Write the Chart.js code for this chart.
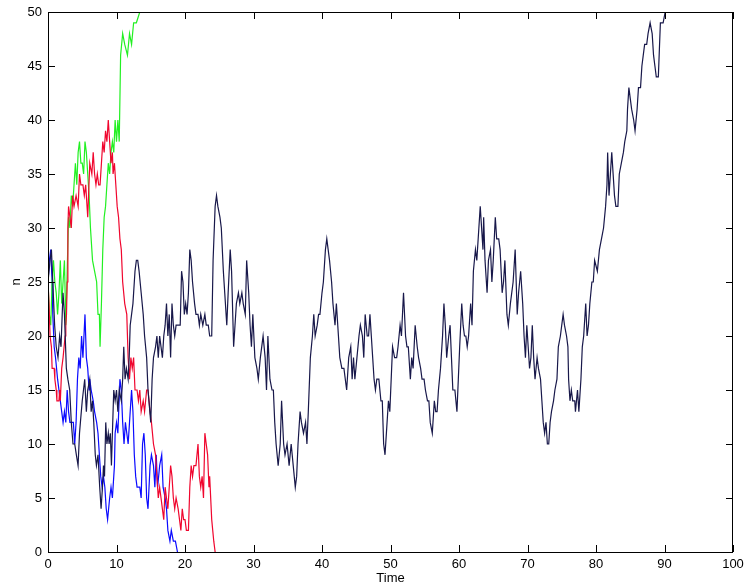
<!DOCTYPE html>
<html>
<head>
<meta charset="utf-8">
<script src="https://cdn.jsdelivr.net/npm/chart.js@4.4.1/dist/chart.umd.min.js"></script>
<style>
  html, body { margin: 0; padding: 0; background: #fff; }
  #wrap { width: 744px; height: 586px; }
</style>
</head>
<body>
<div id="wrap"><canvas id="c" width="744" height="586"></canvas></div>
<script>
// Population size n over time for four sample paths (absorbed at 0 or 50).
const blackTime = [0,0.3,0.5,0.7,0.97,1.2,1.46,1.7,1.9,2.19,2.4,2.68,2.9,3.17,3.4,3.65,3.9,4.14,4.39,4.6,4.73,5.0,5.36,5.6,5.8,6.09,6.3,6.5,6.68,6.9,7.07,7.3,7.55,7.75,7.95,8.1,8.25,8.43,8.6,8.8,8.92,9.1,9.26,9.45,9.6,9.8,10.0,10.2,10.4,10.7,10.9,11.06,11.25,11.45,11.7,11.85,12.0,12.2,12.4,12.7,12.9,13.1,13.3,13.6,13.9,14.1,14.4,14.6,15.0,15.2,15.4,15.7,15.9,16.1,16.3,16.5,16.7,16.9,17.1,17.3,17.5,17.7,17.9,18.1,18.3,18.5,18.7,19.0,19.3,19.5,19.7,19.9,20.1,20.3,20.5,20.7,20.9,21.1,21.4,21.6,21.9,22.1,22.3,22.6,22.9,23.1,23.4,23.6,23.9,24.1,24.4,24.6,24.8,25.1,25.3,25.6,25.8,26.1,26.3,26.6,26.8,27.1,27.3,27.5,27.8,28.0,28.3,28.5,28.8,29.0,29.3,29.5,29.7,29.9,30.2,30.5,30.7,31.0,31.2,31.4,31.7,31.9,32.1,32.4,32.7,32.9,33.1,33.3,33.6,33.9,34.1,34.4,34.6,34.9,35.2,35.5,35.8,36.1,36.3,36.5,36.8,37.0,37.3,37.6,37.8,38.0,38.3,38.6,38.8,39.0,39.3,39.5,39.7,40.0,40.2,40.5,40.7,40.9,41.1,41.4,41.6,41.9,42.1,42.4,42.6,42.9,43.2,43.6,43.9,44.2,44.4,44.6,44.8,45.1,45.4,45.6,45.9,46.1,46.3,46.6,46.8,47.0,47.2,47.4,47.6,47.8,48.0,48.3,48.6,48.8,49.0,49.2,49.5,49.7,49.9,50.1,50.3,50.6,50.9,51.1,51.4,51.6,51.9,52.2,52.4,52.6,52.9,53.1,53.3,53.6,53.9,54.1,54.4,54.6,54.9,55.1,55.4,55.6,55.8,56.1,56.4,56.6,56.8,57.0,57.3,57.6,57.8,58.0,58.2,58.5,58.7,58.9,59.1,59.4,59.7,59.9,60.1,60.4,60.6,60.8,61.0,61.2,61.4,61.7,61.9,62.1,62.4,62.6,62.9,63.1,63.3,63.5,63.6,63.8,64.1,64.3,64.6,64.8,65.0,65.3,65.5,65.8,66.0,66.3,66.5,66.7,67.0,67.2,67.5,67.9,68.2,68.5,68.7,69.0,69.3,69.5,69.7,69.9,70.1,70.3,70.5,70.7,70.9,71.1,71.4,71.6,71.9,72.1,72.3,72.5,72.7,72.9,73.1,73.3,73.5,73.8,74.0,74.3,74.5,74.8,75.0,75.2,75.4,75.7,75.9,76.0,76.2,76.4,76.6,76.9,77.0,77.3,77.5,77.8,78.0,78.2,78.5,78.7,78.9,79.1,79.4,79.6,79.8,80.2,80.5,80.8,81.1,81.4,81.6,81.7,81.9,82.1,82.3,82.5,82.7,82.9,83.2,83.4,83.7,84.0,84.2,84.5,84.6,84.8,85.0,85.2,85.5,85.7,86.0,86.2,86.5,86.7,86.9,87.1,87.4,87.6,87.9,88.2,88.4,88.6,88.8,89.1,89.4,89.8,90.1,90.6];
const blackCount = [25,27,28,25,21,19,18,20,19,24,22,17,16,15,12,10,10,9,8,11,12,14,16,13,15,16,13,14,12,9,8,9,6,4,6,8,7,12,10,11,10,11,8,12,15,14,15,13,15,14,16,19,16,17,16,18,21,22,23,26,27,27,26,24,22,20,18,15,12,16,18,19,20,18,20,19,18,20,21,23,20,22,18,23,21,20,21,21,21,26,25,22,23,22,24,28,27,25,23,22,22,21,22,21,22,21,21,20,20,27,32,33,32,31,30,26,24,21,24,28,26,19,21,23,24,23,24,23,22,27,24,21,19,22,18,17,16,18,19,20,18,15,20,16,15,15,12,10,8,10,14,10,9,10,8,10,8,6,7,10,13,12,11,12,10,13,18,20,22,20,21,22,22,24,25,28,29,28,27,25,23,21,23,20,18,17,17,15,18,19,16,18,16,18,20,21,20,18,22,20,20,22,20,18,16,15,16,16,14,14,10,9,12,14,13,16,19,18,18,19,21,20,24,20,19,19,16,18,17,21,19,18,17,16,16,15,14,14,12,11,14,13,13,15,17,20,23,21,18,20,21,18,15,15,13,16,19,23,21,20,20,19,20,23,21,26,28,27,30,32,30,28,31,27,24,27,28,25,27,31,29,29,28,24,25,27,22,21,23,25,28,22,24,26,23,20,18,21,19,17,18,21,18,16,18,17,16,14,12,11,12,10,10,12,13,14,15,16,19,20,21,22,21,20,19,16,14,15,14,14,13,15,13,16,19,20,23,20,21,23,25,25,27,26,28,29,30,32,34,37,33,35,37,35,33,32,32,35,36,37,38,39,41,43,42,41,40,39,41,43,43,45,46,47,47,48,49,48,46,45,44,44,49,49,50,50];

const greenTime = [0,0.2,0.4,0.6,0.8,1.0,1.2,1.4,1.6,1.8,2.0,2.2,2.4,2.6,2.8,3.0,3.2,3.4,3.6,3.8,4.0,4.2,4.4,4.6,4.8,5.0,5.2,5.4,5.6,5.8,6.0,6.2,6.5,6.8,7.1,7.3,7.5,7.6,7.8,8.0,8.2,8.4,8.6,8.8,9.0,9.2,9.4,9.6,9.8,10.0,10.2,10.4,10.6,10.9,11.2,11.6,11.9,12.2,12.5,12.9,13.4];
const greenCount = [25,22,21,25,27,25,24,22,24,27,23,25,27,21,26,31,30,33,32,34,36,34,37,38,36,36,35,38,37,35,33,30,27,26,25,22,22,19,23,28,31,32,34,36,35,37,38,37,40,38,40,38,46,48,47,46,48,47,49,49,50];

const redTime = [0,0.15,0.3,0.5,0.6,0.9,1.0,1.2,1.3,1.6,1.7,1.8,2.0,2.2,2.5,2.6,2.7,2.8,2.9,3.0,3.2,3.4,3.6,3.8,4.1,4.4,4.6,4.8,5.1,5.3,5.5,5.8,6.1,6.4,6.6,6.8,7.0,7.2,7.4,7.6,7.8,8.0,8.2,8.4,8.6,8.8,9.0,9.2,9.4,9.5,9.7,9.9,10.1,10.3,10.5,10.7,10.9,11.2,11.5,11.7,11.9,12.1,12.3,12.5,12.7,13.0,13.2,13.4,13.6,13.9,14.1,14.4,14.6,14.9,15.1,15.4,15.7,15.9,16.1,16.3,16.5,16.7,16.9,17.1,17.3,17.5,17.7,17.9,18.1,18.3,18.5,18.7,19.0,19.2,19.4,19.6,19.8,20.0,20.2,20.5,20.7,20.9,21.1,21.3,21.6,21.9,22.1,22.3,22.5,22.7,22.9,23.1,23.3,23.5,23.6,23.9,24.2,24.4];
const redCount = [25,23,20,19,17,17,16,15,14,14,15,14,17,18,20,21,22,25,30,32,31,30,33,32,33,32,35,34,34,33,34,31,36,35,37,35,34,35,34,34,36,38,37,39,38,40,38,36,37,35,36,34,32,31,29,28,25,23,22,18,16,18,17,18,15,15,14,15,13,14,13,15,15,13,12,10,9,7,5,6,5,4,3,6,5,4,6,8,7,5,4,5,4,3,2,4,3,3,2,2,6,8,7,8,8,10,7,6,7,5,11,10,9,6,7,3,1,0];

const blueTime = [0,0.2,0.4,0.6,0.7,0.9,1.1,1.4,1.6,1.8,2.0,2.2,2.4,2.6,2.8,3.0,3.2,3.5,3.7,3.9,4.1,4.3,4.5,4.7,4.9,5.1,5.4,5.6,5.8,6.0,6.1,6.3,6.6,6.8,7.1,7.3,7.5,7.7,7.9,8.1,8.3,8.5,8.7,9.0,9.2,9.4,9.6,9.7,9.8,10.0,10.2,10.5,10.7,10.9,11.1,11.3,11.5,11.7,11.9,12.2,12.4,12.6,12.8,13.0,13.4,13.6,13.8,14.0,14.2,14.4,14.6,14.9,15.1,15.4,15.6,15.8,16.0,16.3,16.6,16.8,17.1,17.3,17.5,17.8,18.0,18.3,18.6,18.9];
const blueCount = [25,27,28,25,22,19,18,16,15,14,13,12,13,12,15,13,12,12,12,10,12,16,18,17,20,18,22,18,17,15,16,15,14,13,12,11,9,7,6,7,6,4,3,5,6,5,7,8,11,12,11,16,15,12,10,12,11,10,12,15,13,9,7,6,6,5,10,11,9,5,4,8,9,8,6,9,6,8,9,6,5,4,2,1,2,1,1,0];

// Axis limits and tick steps
const xRange = [0, 100], xStep = 10;
const yRange = [0, 50], yStep = 5;

const pairs = (t, n) => t.map((v, i) => ({ x: v, y: n[i] }));
const FONT = '"Liberation Sans", Arial, Helvetica, sans-serif';

// Closed frame with inward tick marks on every side
const frameTicks = {
  id: 'frameTicks',
  afterDraw(chart) {
    const { ctx, chartArea: a, scales: { x, y } } = chart;
    const L = 7;
    ctx.save();
    ctx.strokeStyle = '#000';
    ctx.lineWidth = 1;
    ctx.beginPath();
    x.ticks.forEach(t => {
      const px = Math.round(x.getPixelForValue(t.value)) + 0.5;
      ctx.moveTo(px, a.bottom); ctx.lineTo(px, a.bottom - L);
      ctx.moveTo(px, a.top); ctx.lineTo(px, a.top + L);
    });
    y.ticks.forEach(t => {
      const py = Math.round(y.getPixelForValue(t.value)) + 0.5;
      ctx.moveTo(a.left, py); ctx.lineTo(a.left + L, py);
      ctx.moveTo(a.right, py); ctx.lineTo(a.right - L, py);
    });
    ctx.stroke();
    ctx.strokeRect(Math.round(a.left) + 0.5, Math.round(a.top) + 0.5,
                   Math.round(a.width) - 1, Math.round(a.height));
    ctx.restore();
  }
};

const line = (label, t, n, color) => ({
  label, data: pairs(t, n), borderColor: color, borderWidth: 1.2,
  pointRadius: 0, tension: 0, fill: false
});

new Chart(document.getElementById('c'), {
  type: 'line',
  data: {
    datasets: [
      line('path 1', blackTime, blackCount, '#18184a'),
      line('path 3', redTime, redCount, '#f0062e'),
      line('path 4', greenTime, greenCount, '#22f022'),
      line('path 2', blueTime, blueCount, '#0a0aff')
    ]
  },
  options: {
    responsive: false,
    animation: false,
    devicePixelRatio: 1,
    layout: { padding: { top: 12, right: 11, left: 0, bottom: 0 } },
    plugins: { legend: { display: false }, tooltip: { enabled: false } },
    scales: {
      x: {
        type: 'linear', min: xRange[0], max: xRange[1],
        grid: { display: false, drawTicks: false },
        border: { display: false },
        ticks: { stepSize: xStep, padding: 5, maxRotation: 0, color: '#000', font: { family: FONT, size: 13 } },
        title: { display: true, text: 'Time', color: '#000', padding: 0, font: { family: FONT, size: 13 } },
        afterFit(s) { s.height = 34; s.paddingLeft = 0; s.paddingRight = 0; }
      },
      y: {
        type: 'linear', min: yRange[0], max: yRange[1],
        grid: { display: false, drawTicks: false },
        border: { display: false },
        ticks: { stepSize: yStep, padding: 6, color: '#000', font: { family: FONT, size: 13 } },
        title: { display: true, text: 'n', color: '#000', padding: { top: 9, bottom: 0 }, font: { family: FONT, size: 13 } },
        afterFit(s) { s.width = 48; s.paddingTop = 0; s.paddingBottom = 0; }
      }
    }
  },
  plugins: [frameTicks]
});
</script>
</body>
</html>
